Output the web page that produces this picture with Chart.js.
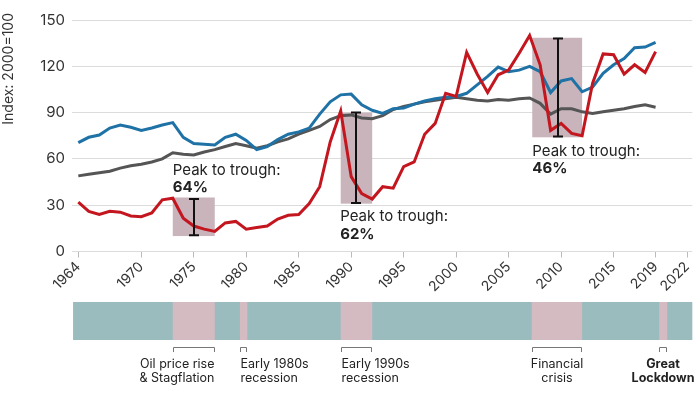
<!DOCTYPE html>
<html>
<head>
<meta charset="utf-8">
<script src="https://cdn.jsdelivr.net/npm/chart.js@4.4.0/dist/chart.umd.min.js"></script>
<style>
  html, body { margin: 0; padding: 0; background: #fff; }
  #wrap { width: 700px; height: 394px; position: relative; }
</style>
</head>
<body>
<div id="wrap"><canvas id="myChart"></canvas></div>
<script>
const years = [
  1964, 1965, 1966, 1967, 1968, 1969, 1970, 1971, 1972, 1973,
  1974, 1975, 1976, 1977, 1978, 1979, 1980, 1981, 1982, 1983,
  1984, 1985, 1986, 1987, 1988, 1989, 1990, 1991, 1992, 1993,
  1994, 1995, 1996, 1997, 1998, 1999, 2000, 2001, 2002, 2003,
  2004, 2005, 2006, 2007, 2008, 2009, 2010, 2011, 2012, 2013,
  2014, 2015, 2016, 2017, 2018, 2019
];
const blueSeries = [
  70.5, 74, 75.5, 80, 82, 80.5, 78.5, 80, 82, 83.5,
  74, 70, 69.5, 69, 74, 76, 72, 66, 68, 72.5,
  76, 77.5, 80, 89, 97, 101.5, 102, 95, 91.5, 89.5,
  92.5, 93, 95.5, 97.5, 99, 100, 100.5, 102.5, 108, 113.5,
  119.5, 116.5, 117.5, 120, 116.5, 103, 110.5, 112, 103.5, 106.5,
  115.5, 121, 125, 132, 132.5, 135.5
];
const redSeries = [
  32, 26, 24, 26, 25.5, 23, 22.5, 25, 33.5, 34.5,
  21.5, 16.5, 14.5, 13, 18.5, 19.5, 14.5, 15.5, 16.5, 21,
  23.5, 24, 31, 42, 71, 91, 48.5, 37.5, 34, 42,
  41, 55, 58, 76, 83, 102.5, 100.5, 129, 115, 103,
  114.5, 117.5, 128.5, 140, 121, 78.5, 83, 76.5, 75, 109,
  128, 127.5, 115, 121, 116, 129.5
];
const greySeries = [
  49, 50, 51, 52, 54, 55.5, 56.5, 58, 60, 64,
  63, 62.5, 64.5, 66, 68, 70, 68.5, 67, 68.5, 71,
  73, 76, 78.5, 81, 85.5, 88, 88.5, 86.5, 86, 88,
  92, 94, 95.5, 97, 98, 99, 100, 99, 98, 97.5,
  98.5, 98, 99, 99.5, 96, 89, 92.5, 92.5, 90.5, 89.5,
  90.5, 91.5, 92.5, 94, 95, 93.5
];
const xTickYears = [1964, 1970, 1975, 1980, 1985, 1990, 1995, 2000, 2005, 2010, 2015, 2019, 2022];
const yTicks = [0, 30, 60, 90, 120, 150];

// shaded peak-to-trough boxes: [fromYear, toYear, top, bottom]
const peakBoxes = [
  [1973, 1977, 35, 10],
  [1989, 1992, 90, 31],
  [2007.25, 2012, 138.5, 74]
];
// error bars: [year, high, low]
const peakBars = [
  [1975, 34, 10.5],
  [1990.5, 90, 31.5],
  [2009.75, 138, 74.5]
];
const peakLabels = ["64%", "62%", "46%"];
// label anchor: [year, value of first line, value of second line]
const peakLabelPos = [
  [1973, 52.8, 41.5],
  [1988.95, 22.7, 11.3],
  [2007.25, 65.1, 54.1]
];

// timeline band
const bandRange = [1963.5, 2022.5];
const recessions = [
  [1973, 1977],
  [1979.4, 1980.1],
  [1989, 1992],
  [2007.2, 2012],
  [2019.35, 2020.1]
];
const recessionNames = [
  ["Oil price rise", "& Stagflation"],
  ["Early 1980s", "recession"],
  ["Early 1990s", "recession"],
  ["Financial", "crisis"],
  ["Great", "Lockdown"]
];
const recessionAlign = ["right", "left", "left", "center", "center"];

const FONT = "Inter, 'Open Sans', sans-serif";

const extras = {
  id: "extras",
  beforeDatasetsDraw(chart) {
    const { ctx, scales: { x, y } } = chart;
    ctx.save();
    ctx.fillStyle = "#c9b4bb";
    peakBoxes.forEach(([a, b, t, btm]) => {
      const x0 = x.getPixelForValue(a), x1 = x.getPixelForValue(b);
      const y0 = y.getPixelForValue(t), y1 = y.getPixelForValue(btm);
      ctx.fillRect(x0, y0, x1 - x0, y1 - y0);
    });
    ctx.restore();
  },
  afterDatasetsDraw(chart) {
    const { ctx, scales: { x, y } } = chart;
    ctx.save();
    ctx.strokeStyle = "#111";
    ctx.lineWidth = 2;
    peakBars.forEach(([yr, hi, lo]) => {
      const px = Math.round(x.getPixelForValue(yr));
      const y0 = y.getPixelForValue(hi), y1 = y.getPixelForValue(lo);
      ctx.beginPath();
      ctx.moveTo(px, y0); ctx.lineTo(px, y1);
      ctx.moveTo(px - 5, y0); ctx.lineTo(px + 5, y0);
      ctx.moveTo(px - 5, y1); ctx.lineTo(px + 5, y1);
      ctx.stroke();
    });
    ctx.fillStyle = "#222";
    ctx.textAlign = "left";
    ctx.textBaseline = "middle";
    peakLabelPos.forEach(([yr, v1, v2], i) => {
      const px = x.getPixelForValue(yr);
      ctx.font = "15px " + FONT;
      ctx.fillText("Peak to trough:", px, y.getPixelForValue(v1));
      ctx.font = "bold 15px " + FONT;
      ctx.fillText(peakLabels[i], px, y.getPixelForValue(v2));
    });
    ctx.restore();
  },
  afterDraw(chart) {
    const { ctx, scales: { x } } = chart;
    ctx.save();
    // y axis title
    ctx.fillStyle = "#333";
    ctx.font = "14px " + FONT;
    ctx.translate(9, 13);
    ctx.rotate(-Math.PI / 2);
    ctx.textAlign = "right";
    ctx.textBaseline = "middle";
    ctx.fillText("Index: 2000=100", 0, 0);
    ctx.restore();

    ctx.save();
    const bTop = 302, bBot = 340;
    const bx0 = x.getPixelForValue(bandRange[0]), bx1 = x.getPixelForValue(bandRange[1]);
    ctx.fillStyle = "#9bbcbe";
    ctx.fillRect(bx0, bTop, bx1 - bx0, bBot - bTop);
    ctx.fillStyle = "#d4bac1";
    recessions.forEach(([a, b]) => {
      const x0 = x.getPixelForValue(a), x1 = x.getPixelForValue(b);
      ctx.fillRect(x0, bTop, x1 - x0, bBot - bTop);
    });
    // brackets + names
    ctx.strokeStyle = "#777";
    ctx.lineWidth = 1;
    ctx.textBaseline = "middle";
    ctx.fillStyle = "#222";
    recessions.forEach(([a, b], i) => {
      const x0 = Math.round(x.getPixelForValue(a)) + 0.5, x1 = Math.round(x.getPixelForValue(b)) - 0.5;
      ctx.beginPath();
      ctx.moveTo(x0, 352); ctx.lineTo(x0, 347.5); ctx.lineTo(x1, 347.5); ctx.lineTo(x1, 352);
      ctx.stroke();
      const al = recessionAlign[i];
      const tx = al === "right" ? x1 : al === "left" ? x0 : (x0 + x1) / 2;
      ctx.textAlign = al;
      ctx.font = (i === 4 ? "bold " : "") + "12.5px " + FONT;
      ctx.fillText(recessionNames[i][0], tx, 364);
      ctx.fillText(recessionNames[i][1], tx, 378);
    });
    ctx.restore();
  }
};

const ctx = document.getElementById("myChart");
const toPoints = (arr) => arr.map((v, i) => ({ x: years[i], y: v }));

new Chart(ctx, {
  type: "line",
  data: {
    datasets: [
      { label: "Red", data: toPoints(redSeries), borderColor: "#c3161f", order: 1 },
      { label: "Blue", data: toPoints(blueSeries), borderColor: "#1f72a6", order: 2 },
      { label: "Grey", data: toPoints(greySeries), borderColor: "#555555", order: 3 }
    ]
  },
  options: {
    responsive: true,
    maintainAspectRatio: false,
    animation: false,
    devicePixelRatio: 1,
    datasets: {
      line: { borderWidth: 3, pointRadius: 0, tension: 0, fill: false, borderJoinStyle: "miter" }
    },
    layout: { padding: { top: 20, right: 5, left: 0, bottom: 0 } },
    plugins: {
      legend: { display: false },
      tooltip: { enabled: false }
    },
    scales: {
      x: {
        type: "linear",
        min: 1963.4,
        max: 2022.5,
        afterBuildTicks: (s) => { s.ticks = xTickYears.map((v) => ({ value: v })); },
        afterFit: (s) => { s.height = 142.5; },
        ticks: {
          autoSkip: false,
          minRotation: 45,
          maxRotation: 45,
          padding: 1,
          color: "#333",
          font: { size: 14, family: FONT },
          callback: (v) => String(v)
        },
        grid: { drawOnChartArea: false, drawTicks: true, tickLength: 6, color: "#bbb" },
        border: { display: false }
      },
      y: {
        min: 0,
        max: 150,
        afterBuildTicks: (s) => { s.ticks = yTicks.map((v) => ({ value: v })); },
        afterFit: (s) => { s.width = 72; },
        ticks: {
          padding: 7,
          color: "#333",
          font: { size: 15, family: FONT }
        },
        grid: { color: "#dcdcdc", drawTicks: false },
        border: { display: false }
      }
    }
  },
  plugins: [extras]
});
</script>
</body>
</html>
